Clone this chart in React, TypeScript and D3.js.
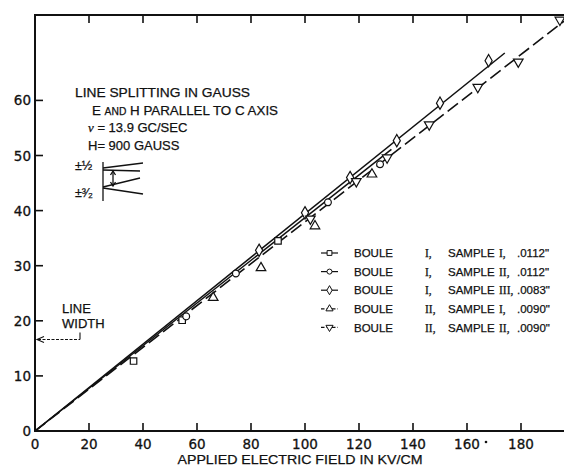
import * as d3 from 'd3';

// axis ticks
const xTicks = [0, 20, 40, 60, 80, 100, 120, 140, 160, 180];
const yTicks = [0, 10, 20, 30, 40, 50, 60];
const topTicks = [20, 40, 60, 80, 100, 120, 140, 160, 180];

// data: [kV/cm, gauss]
const boule1sample1 = [[36.5, 12.7], [54.5, 20.1], [90, 34.5]];
const boule1sample2 = [[56, 20.8], [74.4, 28.6], [108.5, 41.5], [127.8, 48.4]];
const boule1sample3 = [[83, 32.8], [100, 39.6], [116.7, 46], [134, 52.7], [150, 59.5], [168, 67.2]];
const boule2sample1 = [[66, 24.2], [83.7, 29.6], [103.7, 37.2], [124.8, 46.6]];
const boule2sample2 = [[102, 38.5], [119, 45.3], [130.4, 49.6], [146, 55.6], [164, 62.4], [179, 67], [194.4, 74.6]];

// fitted lines
const fitUpper = [[0, 0], [174, 68.6]];
const fitLower = [[0, 0], [132, 51.1]];
const fitDashed = [[0, 0], [196, 74.4]];

const lineWidthValue = 16.6;

const legendLabels = [
  { boule: 'I,', sample: 'I,', thick: '.0112"' },
  { boule: 'I,', sample: 'II,', thick: '.0112"' },
  { boule: 'I,', sample: 'III,', thick: '.0083"' },
  { boule: 'II,', sample: 'I,', thick: '.0090"' },
  { boule: 'II,', sample: 'II,', thick: '.0090"' },
];

const W = 564;
const H = 468;
const FONT = '"Liberation Sans", Arial, sans-serif';
const NUMFONT = '"DejaVu Sans", sans-serif';
const SERIF = '"Liberation Serif", "DejaVu Serif", serif';
const INK = '#111';

const symbolFor = [
  { type: d3.symbolSquare, size: 42, rot: 0, dashed: false, data: boule1sample1 },
  { type: d3.symbolCircle, size: 36, rot: 0, dashed: false, data: boule1sample2 },
  { type: d3.symbolDiamond, size: 44, rot: 0, dashed: false, data: boule1sample3 },
  { type: d3.symbolTriangle, size: 40, rot: 0, dashed: true, data: boule2sample1 },
  { type: d3.symbolTriangle, size: 40, rot: 180, dashed: true, data: boule2sample2 },
];

export default function App() {
  const x = d3.scaleLinear().domain([0, 196]).range([35, 564.2]);
  const y = d3.scaleLinear().domain([0, 75.5]).range([431, 15]);
  const line = d3.line<number[]>().x(d => x(d[0])).y(d => y(d[1]));
  const x0 = x(0);
  const yBase = y(0);
  const yTop = 15;

  // legend layout
  const legX = 321;
  const legY = 253;
  const legStep = 18.6;

  const arrowY = y(lineWidthValue);

  return (
    <svg width={W} height={H} style={{ position: 'fixed', left: 0, top: 0, background: '#fff' }}>
      <rect width={W} height={H} fill="#fff" />
      {/* frame */}
      <g stroke={INK} strokeWidth={2} fill="none">
        <line x1={x0} x2={x0} y1={yTop} y2={yBase} />
        <line x1={x0 - 1} x2={W} y1={yBase} y2={yBase} />
        <line x1={x0 - 1} x2={W} y1={yTop} y2={yTop} />
      </g>
      {/* ticks */}
      <g stroke={INK} strokeWidth={1.6}>
        {yTicks.filter(t => t > 0).map(t => (
          <line key={'yt' + t} x1={x0} x2={x0 + 8} y1={y(t)} y2={y(t)} />
        ))}
        {xTicks.filter(t => t > 0).map(t => (
          <line key={'xt' + t} x1={x(t)} x2={x(t)} y1={yBase} y2={yBase - 8} />
        ))}
        {topTicks.map(t => (
          <line key={'tt' + t} x1={x(t)} x2={x(t)} y1={yTop} y2={yTop + 8} />
        ))}
      </g>
      {/* tick labels */}
      <g fontFamily={NUMFONT} fontSize={13.5} fill={INK} stroke={INK} strokeWidth={0.3}>
        {yTicks.map(t => (
          <text key={'yl' + t} x={x0 - 4} y={y(t) + 5} textAnchor="end">{t}</text>
        ))}
        {xTicks.map(t => (
          <text key={'xl' + t} x={x(t)} y={449} textAnchor="middle">{t}</text>
        ))}
      </g>
      <circle cx={x(160) + 19} cy={442} r={1.3} fill={INK} />
      <text x={300} y={464} textAnchor="middle" fontFamily={FONT} fontSize={13} fill={INK} stroke={INK} strokeWidth={0.25}
        textLength={245} lengthAdjust="spacingAndGlyphs">
        APPLIED ELECTRIC FIELD IN KV/CM
      </text>

      {/* fitted lines */}
      <path d={line(fitUpper) || ''} stroke={INK} strokeWidth={1.5} fill="none" />
      <path d={line(fitLower) || ''} stroke={INK} strokeWidth={1.5} fill="none" />
      <path d={line(fitDashed) || ''} stroke={INK} strokeWidth={1.6} fill="none" strokeDasharray="13,5" />

      {/* data markers */}
      {symbolFor.map((s, i) => (
        <g key={'s' + i}>
          {s.data.map((d, j) => (
            <path
              key={j}
              d={d3.symbol().type(s.type).size(s.size)() || ''}
              transform={`translate(${x(d[0])},${y(d[1])}) rotate(${s.rot})`}
              fill="#fff"
              stroke={INK}
              strokeWidth={1.2}
            />
          ))}
        </g>
      ))}

      {/* annotation */}
      <g fontFamily={FONT} fill={INK} stroke={INK} strokeWidth={0.25}>
        <text x={75} y={97} fontSize={13} textLength={175} lengthAdjust="spacingAndGlyphs">LINE SPLITTING IN GAUSS</text>
        <text x={92} y={115} fontSize={13} textLength={186} lengthAdjust="spacingAndGlyphs">
          <tspan>E </tspan>
          <tspan fontSize={10}>AND</tspan>
          <tspan> H PARALLEL TO C AXIS</tspan>
        </text>
        <text x={88} y={132} fontSize={13}>
          <tspan fontFamily={SERIF} fontStyle="italic">ν</tspan>
          <tspan> = 13.9 GC/SEC</tspan>
        </text>
        <text x={88} y={150} fontSize={13}>H= 900 GAUSS</text>
        <text x={75} y={170} fontSize={12.5}>±½</text>
        <text x={75} y={197} fontSize={12.5}>±³⁄₂</text>
      </g>
      {/* level splitting sketch */}
      <g stroke={INK} strokeWidth={1.3} fill="none">
        <line x1={103} x2={103} y1={162} y2={201} />
        <line x1={103} x2={143} y1={168} y2={163} />
        <line x1={103} x2={140} y1={170} y2={171} />
        <line x1={103} x2={140} y1={187} y2={178} />
        <line x1={103} x2={143} y1={188} y2={194} />
        <line x1={113} x2={113} y1={172} y2={185} />
        <path d="M110.5,175 L113,171 L115.5,175" />
        <path d="M110.5,182 L113,186 L115.5,182" />
      </g>

      {/* line width marker */}
      <g fontFamily={FONT} fontSize={13} fill={INK} stroke={INK} strokeWidth={0.25}>
        <text x={62} y={313}>LINE</text>
        <text x={62} y={328}>WIDTH</text>
      </g>
      <g stroke={INK} strokeWidth={1.1} fill="none">
        <line x1={x0 + 3} x2={80} y1={arrowY} y2={arrowY} strokeDasharray="3,1.5" />
        <line x1={80} x2={80} y1={arrowY} y2={arrowY - 7} />
        <path d={`M${x0 + 9},${arrowY - 3} L${x0 + 2},${arrowY} L${x0 + 9},${arrowY + 3}`} />
      </g>

      {/* legend */}
      {legendLabels.map((l, i) => {
        const s = symbolFor[i];
        const cy = legY + i * legStep;
        const ty = cy + 4.2;
        return (
          <g key={'lg' + i}>
            <line x1={legX} x2={legX + 17} y1={cy} y2={cy} stroke={INK} strokeWidth={1.2} strokeDasharray={s.dashed ? '3.5,2' : undefined} />
            <path
              d={d3.symbol().type(s.type).size(s.size * 0.55)() || ''}
              transform={`translate(${legX + 8.5},${cy}) rotate(${s.rot})`}
              fill="#fff"
              stroke={INK}
              strokeWidth={1}
            />
            <g fontFamily={FONT} fontSize={11.5} fill={INK} stroke={INK} strokeWidth={0.25}>
              <text x={354} y={ty}>BOULE</text>
              <text x={425} y={ty} fontFamily={SERIF}>{l.boule}</text>
              <text x={448} y={ty}>SAMPLE</text>
              <text x={499} y={ty} fontFamily={SERIF}>{l.sample}</text>
              <text x={517} y={ty}>{l.thick}</text>
            </g>
          </g>
        );
      })}
    </svg>
  );
}
